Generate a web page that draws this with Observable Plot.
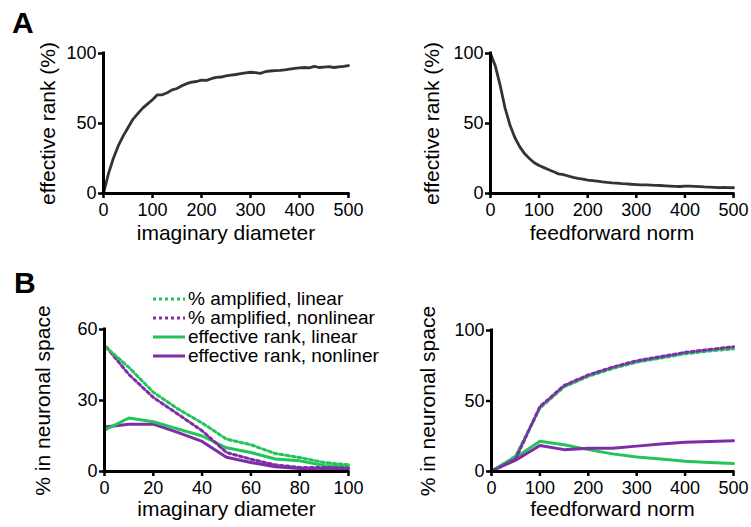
<!DOCTYPE html>
<html>
<head>
<meta charset="utf-8">
<script src="https://cdn.jsdelivr.net/npm/d3@7"></script>
<script src="https://cdn.jsdelivr.net/npm/@observablehq/plot@0.6"></script>
<style>
  body { margin: 0; background: #fff; }
  #fig { position: relative; width: 751px; height: 527px; font-family: "Liberation Sans", Arial, Helvetica, sans-serif; color: #000; background: #fff; }
  .panel { position: absolute; }
  .letter { position: absolute; font-weight: bold; font-size: 30px; line-height: 30px; }
  #legend { position: absolute; left: 152px; top: 289px; font-size: 19px; line-height: 19px; white-space: nowrap; }
  #legend .row { display: flex; align-items: center; height: 19px; }
  #legend svg { margin-right: 3px; }
</style>
</head>
<body>
<div id="fig">
  <div class="letter" style="left:12px;top:8px;">A</div>
  <div class="letter" style="left:14px;top:268px;">B</div>
  <div class="panel" id="pA1" style="left:0;top:0;"></div>
  <div class="panel" id="pA2" style="left:375px;top:0;"></div>
  <div class="panel" id="pB1" style="left:0;top:260px;"></div>
  <div class="panel" id="pB2" style="left:375px;top:260px;"></div>
  <div id="legend"></div>
</div>
<script>
// ---------- data ----------
const diamA = [0,10,20,30,40,50,60,70,80,90,100,110,120,130,140,150,160,170,180,190,200,210,220,230,240,250,260,270,280,290,300,310,320,330,340,350,360,370,380,390,400,410,420,430,440,450,460,470,480,490,500];
const rankDiam = [0,14,25,34,41,47,53,57,61,64,67,70.5,70.5,72,74,75,77,78.5,79.5,80,81,80.8,82,83,83.2,84,84.5,85,85.6,86.2,86.6,86.3,85.8,87,87.5,87.8,88,88.3,88.8,89.3,89.7,90,89.8,90.8,90,90.3,90.6,90,90.5,90.8,91.3];

const normA = [0,10,20,30,40,50,60,70,80,90,100,110,120,130,140,150,160,170,180,190,200,210,220,230,240,250,260,270,280,290,300,310,320,330,340,350,360,370,380,390,400,410,420,430,440,450,460,470,480,490,500];
const rankNorm = [100,91,77,61,49,40,33.5,28.5,25,22,20,18.5,17,15.5,14,13.5,12.5,11.5,10.8,10.2,9.6,9.2,8.8,8.3,7.9,7.6,7.4,7.1,6.9,6.6,6.4,6.2,6.1,6.0,5.8,5.7,5.5,5.3,5.1,5.0,5.2,5.3,5.1,4.9,4.7,4.6,4.4,4.2,4.3,4.2,4.1];

const diamB = [0,10,20,30,40,50,60,70,80,90,100];
const ampLinDiam  = [53,44,33.5,26.5,20.5,13.7,11.3,7.6,5.9,3.8,2.8];
const ampNonDiam  = [53.5,41,31.3,24.3,17.2,8,5.2,2.8,1.7,1.7,1.4];
const rankLinDiam = [17.5,22.6,21,18,15,10,8,5.3,4.5,2.5,2];
const rankNonDiam = [18.8,20,20,16.5,12.7,6,3.8,2,1.3,1.3,1.3];

const normB = [0,50,100,150,200,250,300,350,400,450,500];
const ampLinNorm  = [0,11,45,60,67.5,73,77.5,80.5,83.5,85.5,87];
const ampNonNorm  = [0,9,46,61,68.5,74,78.5,81.5,84.5,86.5,88.5];
const rankLinNorm = [0.5,10,21.5,19,15.5,12.5,10.3,8.8,7.3,6.3,5.6];
const rankNonNorm = [0.5,8,18.5,15.5,16.5,16.5,18,19.5,20.8,21.3,21.8];

const seriesNames = ["% amplified, linear", "% amplified, nonlinear", "effective rank, linear", "effective rank, nonliner"];
const seriesColors = ["#22c55a", "#7d2ea6", "#22c55a", "#7d2ea6"];
const seriesDash = ["3,3", "3,3", null, null];

const ticks500 = [0,100,200,300,400,500];
const ticks100 = [0,20,40,60,80,100];
const ticksY100 = [0,50,100];
const ticksY60 = [0,30,60];

// ---------- helpers ----------
const FONT = '"Liberation Sans", Arial, Helvetica, sans-serif';

function toRows(xs, ys) { return xs.map((x, i) => ({x, y: ys[i]})); }

function panel(opts) {
  const {width, height, margins, xDomain, yDomain, xTicks, yTicks, xLabel, yLabel, xTitleDy, yTitleDx, marks} = opts;
  return Plot.plot({
    width, height,
    marginLeft: margins[0], marginRight: margins[1], marginTop: margins[2], marginBottom: margins[3],
    style: {fontFamily: FONT, fontSize: "18px", color: "#000", background: "transparent", overflow: "visible"},
    x: {domain: xDomain},
    y: {domain: yDomain},
    marks: [
      Plot.axisX({ticks: xTicks, tickSize: 5, tickPadding: 5, strokeWidth: 2.5, fontSize: 18, label: null}),
      Plot.axisY({ticks: yTicks, tickSize: 5, tickPadding: 2, strokeWidth: 2.5, fontSize: 18, label: null}),
      Plot.text([xLabel], {frameAnchor: "bottom", dy: xTitleDy, fontSize: 21, fill: "#000"}),
      Plot.text([yLabel], {frameAnchor: "left", textAnchor: "middle", rotate: -90, dx: yTitleDx, fontSize: 21, fill: "#000"}),
      ...marks,
      Plot.ruleX([xDomain[0]], {y1: yDomain[0], y2: yDomain[1], stroke: "#000", strokeWidth: 3, strokeLinecap: "square"}),
      Plot.ruleY([yDomain[0]], {x1: xDomain[0], x2: xDomain[1], stroke: "#000", strokeWidth: 3, strokeLinecap: "square"})
    ]
  });
}

function seriesLine(xs, ys, i, extra = {}) {
  return Plot.line(toRows(xs, ys), {x: "x", y: "y", stroke: seriesColors[i], strokeWidth: 3,
    strokeDasharray: seriesDash[i] ?? undefined, strokeLinejoin: "round", ...extra});
}

// ---------- panels ----------
document.getElementById("pA1").append(panel({
  width: 375, height: 260, margins: [103, 27, 53, 67],
  xDomain: [0, 500], yDomain: [0, 100], xTicks: ticks500, yTicks: ticksY100,
  xLabel: "imaginary diameter", yLabel: "effective rank (%)", xTitleDy: 46, yTitleDx: -55,
  marks: [Plot.line(toRows(diamA, rankDiam), {x: "x", y: "y", stroke: "#333", strokeWidth: 2.8, strokeLinejoin: "round"})]
}));

document.getElementById("pA2").append(panel({
  width: 376, height: 260, margins: [115, 18, 53, 67],
  xDomain: [0, 500], yDomain: [0, 100], xTicks: ticks500, yTicks: ticksY100,
  xLabel: "feedforward norm", yLabel: "effective rank (%)", xTitleDy: 46, yTitleDx: -58,
  marks: [Plot.line(toRows(normA, rankNorm), {x: "x", y: "y", stroke: "#333", strokeWidth: 2.8, strokeLinejoin: "round"})]
}));

document.getElementById("pB1").append(panel({
  width: 375, height: 267, margins: [104, 27, 69, 56],
  xDomain: [0, 100], yDomain: [0, 60], xTicks: ticks100, yTicks: ticksY60,
  xLabel: "imaginary diameter", yLabel: "% in neuronal space", xTitleDy: 44, yTitleDx: -61,
  marks: [
    seriesLine(diamB, rankNonDiam, 3),
    seriesLine(diamB, rankLinDiam, 2),
    seriesLine(diamB, ampNonDiam, 1, {strokeDashoffset: 3}),
    seriesLine(diamB, ampLinDiam, 0)
  ]
}));

document.getElementById("pB2").append(panel({
  width: 376, height: 267, margins: [116, 18, 70, 56],
  xDomain: [0, 500], yDomain: [0, 100], xTicks: ticks500, yTicks: ticksY100,
  xLabel: "feedforward norm", yLabel: "% in neuronal space", xTitleDy: 44, yTitleDx: -63,
  marks: [
    seriesLine(normB, rankLinNorm, 2),
    seriesLine(normB, rankNonNorm, 3),
    seriesLine(normB, ampLinNorm, 0),
    seriesLine(normB, ampNonNorm, 1, {strokeDashoffset: 3})
  ]
}));

// ---------- legend ----------
const legend = d3.select("#legend");
seriesNames.forEach((name, i) => {
  const row = legend.append("div").attr("class", "row");
  const svg = row.append("svg").attr("width", 33).attr("height", 19);
  svg.append("line").attr("x1", 1).attr("x2", 33).attr("y1", 10).attr("y2", 10)
    .attr("stroke", seriesColors[i]).attr("stroke-width", 3)
    .attr("stroke-dasharray", seriesDash[i]);
  row.append("span").text(name);
});
</script>
</body>
</html>
